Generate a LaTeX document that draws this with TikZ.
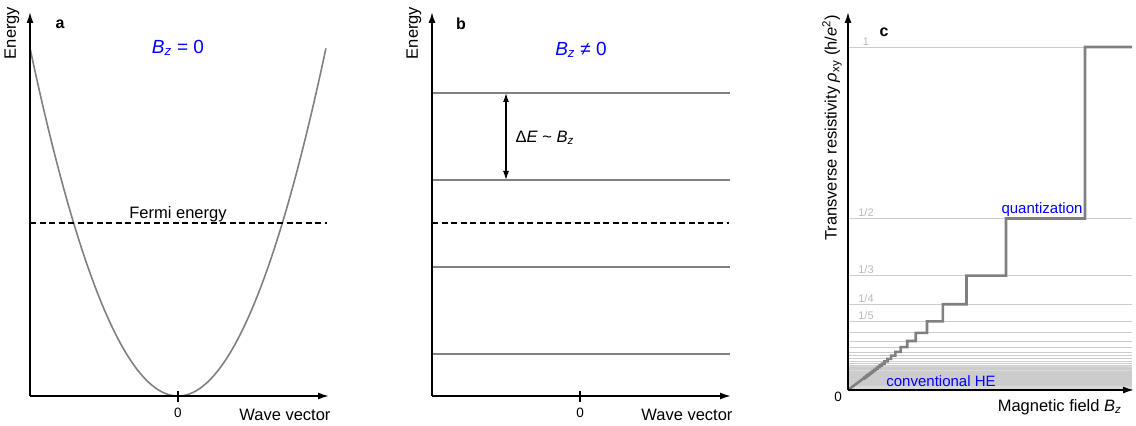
\documentclass[tikz,border=0pt]{standalone}
\usepackage{xcolor}
\usepackage{fontspec}
\setmainfont{Liberation Sans}
\usepackage{tikz}
\usetikzlibrary{arrows.meta, positioning}

\newcommand{\Bzfield}{\textit{B}\textsubscript{\textit{z}}}

\begin{document}
\begin{tikzpicture}[
        x=1pt, y=1pt,
        axis/.style={
            -{Latex[length=11pt,width=7pt]},
            line width=1.6pt,
            black
        },
        band/.style={
            line width=1.6pt,
            gray
        },
        fermi/.style={
            line width=1.6pt,
            dash pattern=on 6pt off 3.5pt
        },
        level/.style={
            line width=0.7pt,
            gray!40
        },
        stepline/.style={
            line width=2.6pt,
            gray,
            line join=miter
        },
        gap/.style={
            {Latex[length=9pt,width=6pt]}-{Latex[length=9pt,width=6pt]},
            line width=1.3pt
        },
        axlabel/.style={font=\fontsize{16.5}{19}\selectfont},
        ticklabel/.style={font=\fontsize{13.5}{15}\selectfont},
        panel/.style={font=\fontsize{16}{19}\selectfont\bfseries},
        field/.style={font=\fontsize{19}{22}\selectfont, text=blue},
        frac/.style={font=\fontsize{11}{12}\selectfont, text=gray!55, anchor=south, inner sep=1.5pt},
        note/.style={font=\fontsize{15}{17}\selectfont, text=blue}
    ]
        \useasboundingbox (0,0) rectangle (1136,426);

        % Panel a
        \coordinate (oa) at (30,30);
        \coordinate (ya) at (30,414);
        \coordinate (xa) at (329,30);
        \draw[band, domain=-1:1, samples=121] plot ({178+148*\x},{30+348*\x*\x});
        \draw[axis] (oa) -- (ya);
        \draw[axis] (oa) -- (xa);
        \draw[line width=1.3pt] (178,24) -- (178,35);
        \coordinate (fa) at (30,203);
        \coordinate (fb) at (327,203);
        \draw[fermi] (fa) -- (fb);
        \node[axlabel, anchor=base] (fermitext) at (178,207) {Fermi energy};
        \node[axlabel, rotate=90] (ena) at (12,393) {Energy};
        \node[panel] (pa) at (60,402) {a};
        \node[field] (bza) at (178,378) {\Bzfield{} = 0};
        \node[ticklabel] (za) at (178,13) {0};
        \node[axlabel, anchor=east] (wva) at (334,11) {Wave vector};

        % Panel b
        \coordinate (ob) at (432,30);
        \coordinate (yb) at (432,414);
        \coordinate (xb) at (731,30);
        \foreach \y in {333,246,159,72}
            \draw[band] (432,\y) -- (730,\y);
        \draw[fermi] (432,203) -- (729,203);
        \draw[axis] (ob) -- (yb);
        \draw[axis] (ob) -- (xb);
        \draw[line width=1.3pt] (580,24) -- (580,35);
        \coordinate (gtop) at (506,333);
        \coordinate (gbot) at (506,246);
        \draw[gap] (gtop) -- (gbot);
        \node[axlabel, anchor=west] (de) at (512,288) {Δ\textit{E} \textasciitilde{} \Bzfield};
        \node[axlabel, rotate=90] (enb) at (414,393) {Energy};
        \node[panel] (pb) at (461,402) {b};
        \node[field] (bzb) at (581,376) {\Bzfield{} ≠ 0};
        \node[ticklabel] (zb) at (580,13) {0};
        \node[axlabel, anchor=east] (wvb) at (736,11) {Wave vector};

        % Panel c
        \fill[gray!30] (848,36) rectangle (1132,60);
        \foreach \n in {1,...,70}
            \draw[level] (848,{36+343/\n}) -- (1132,{36+343/\n});
        \coordinate (oc) at (848,36);
        \coordinate (yc) at (848,414);
        \coordinate (xc) at (1134,36);
        \draw[stepline] (oc)
            \foreach \n in {30,29,...,2} {
                -- ({848+474/(\n+1)},{36+343/\n}) -- ({848+474/\n},{36+343/\n})
            } -- (1085,379) -- (1132,379);
        \draw[axis] (oc) -- (yc);
        \draw[axis] (oc) -- (xc);
        \node[frac] (f1) at (866,379) {1};
        \node[frac] (f2) at (866,207.5) {1/2};
        \node[frac] (f3) at (866,150.3) {1/3};
        \node[frac] (f4) at (866,121.8) {1/4};
        \node[frac] (f5) at (866,104.6) {1/5};
        \node[note, anchor=base] (quant) at (1042,212) {quantization};
        \node[note] (conv) at (941,45) {conventional HE};
        \node[panel] (pc) at (884,394) {c};
        \node[ticklabel] (zc) at (838,29) {0};
        \node[axlabel, rotate=90] (rho) at (832,298) {Transverse resistivity \textit{ρ}\textsubscript{xy} (h/\textit{e}\textsuperscript{2})};
        \node[axlabel, anchor=east] (bfield) at (1125,19) {Magnetic field \Bzfield};
    \end{tikzpicture}
\end{document}
